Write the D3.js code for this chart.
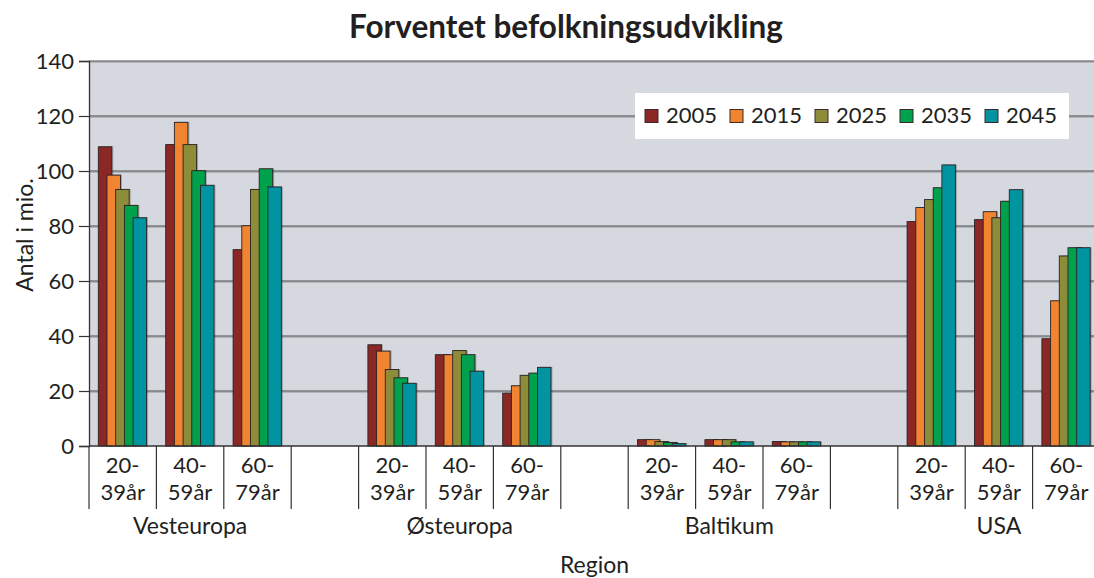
<!DOCTYPE html>
<html>
<head>
<meta charset="utf-8">
<script src="https://cdn.jsdelivr.net/npm/d3@7"></script>
<style>
  html, body { margin: 0; padding: 0; background: #ffffff; }
  svg { display: block; }
  text { font-family: "Lato", "Open Sans", sans-serif; fill: #231f20; }
</style>
</head>
<body>
<svg id="chart" width="1094" height="578"></svg>
<script>
// ---- data ----
const title = "Forventet befolkningsudvikling";
const yTitle = "Antal i mio.";
const xTitle = "Region";
const years = ["2005", "2015", "2025", "2035", "2045"];
const regions = ["Vesteuropa", "Østeuropa", "Baltikum", "USA"];
const ageLine1 = ["20-", "40-", "60-"];
const ageLine2 = ["39år", "59år", "79år"];
const yTicks = [0, 20, 40, 60, 80, 100, 120, 140];
// values ordered: region x age (VE 20-39, 40-59, 60-79, ØE..., Baltikum..., USA...)
const v2005 = [108.8, 109.6, 71.4, 36.8, 33.2, 19.2, 2.3, 2.3, 1.6, 81.6, 82.3, 39.0];
const v2015 = [98.5, 117.7, 80.1, 34.5, 33.2, 21.9, 2.3, 2.3, 1.5, 86.7, 85.2, 52.8];
const v2025 = [93.3, 109.6, 93.3, 27.8, 34.7, 25.7, 1.6, 2.3, 1.5, 89.6, 83.0, 69.1];
const v2035 = [87.5, 100.1, 100.8, 24.8, 33.2, 26.5, 1.3, 1.5, 1.5, 93.9, 89.0, 72.1];
const v2045 = [83.0, 94.8, 94.2, 22.8, 27.2, 28.6, 0.85, 1.5, 1.5, 102.2, 93.2, 72.1];
const series = [v2005, v2015, v2025, v2035, v2045];
const colors = ["#8b2826", "#f08431", "#8d8c39", "#00a14c", "#0094a0"];

// ---- layout ----
const svg = d3.select("#chart");
const plot = { left: 89, right: 1100, top: 61, bottom: 446 };

// slots: 3 age groups per region with one empty slot between regions
const slots = [];
regions.forEach((r, ri) => {
  ageLine1.forEach((a, ai) => slots.push({ key: r + "|" + ai, region: ri, age: ai, idx: ri * 3 + ai }));
  if (ri < regions.length - 1) slots.push({ key: "gap" + ri, gap: true });
});

const x = d3.scaleBand().domain(slots.map(s => s.key)).range([plot.left, plot.right]).padding(0);
const y = d3.scaleLinear().domain([0, 140]).range([plot.bottom, plot.top]);
const bw = x.bandwidth();
const barW = bw * 0.2;
const barStep = bw * 0.129;
const groupOffset = bw * 0.138;

// plot background
svg.append("rect")
  .attr("x", plot.left).attr("y", plot.top)
  .attr("width", plot.right - plot.left).attr("height", plot.bottom - plot.top)
  .attr("fill", "#d5d8df");

// gridlines
const grid = svg.append("g");
yTicks.filter(t => t > 0).forEach(t => {
  grid.append("line")
    .attr("x1", plot.left).attr("x2", plot.right)
    .attr("y1", y(t) + 1.2).attr("y2", y(t) + 1.2)
    .attr("stroke", "#a3a5aa").attr("stroke-width", 1);
  grid.append("line")
    .attr("x1", plot.left).attr("x2", plot.right)
    .attr("y1", y(t)).attr("y2", y(t))
    .attr("stroke", "#4a4a4d").attr("stroke-width", 1.2);
});

// bars
const barsG = svg.append("g");
slots.filter(s => !s.gap).forEach(s => {
  const x0 = x(s.key) + groupOffset;
  series.forEach((vals, si) => {
    const v = vals[s.idx];
    const bx = x0 + si * barStep;
    // shadow
    barsG.append("rect")
      .attr("x", bx + 1.5).attr("y", y(v) - 0.5)
      .attr("width", barW).attr("height", y(0) - y(v) + 0.5)
      .attr("fill", "#000").attr("fill-opacity", 0.25);
    barsG.append("rect")
      .attr("x", bx).attr("y", y(v))
      .attr("width", barW).attr("height", y(0) - y(v))
      .attr("fill", colors[si])
      .attr("stroke", "#2a2222").attr("stroke-width", 0.9);
  });
});

// y axis
const yAxis = d3.axisLeft(y).tickValues(yTicks).tickSize(10).tickPadding(5).tickFormat(d3.format("d"));
const yg = svg.append("g").attr("transform", `translate(${plot.left},0)`).call(yAxis);
yg.select(".domain").attr("stroke", "#333").attr("stroke-width", 1.3);
yg.selectAll(".tick line").attr("stroke", "#333").attr("stroke-width", 1.2);
yg.selectAll(".tick text")
  .style("font-family", '"Lato", "Open Sans", sans-serif')
  .style("font-size", "22px").attr("fill", "#231f20");

// x axis baseline
svg.append("line")
  .attr("x1", plot.left).attr("x2", plot.right)
  .attr("y1", plot.bottom).attr("y2", plot.bottom)
  .attr("stroke", "#333").attr("stroke-width", 1.3);

// separators at each slot boundary
const bounds = slots.map(s => x(s.key)).concat([plot.right]);
bounds.forEach(bx => {
  svg.append("line")
    .attr("x1", bx).attr("x2", bx)
    .attr("y1", plot.bottom).attr("y2", 509)
    .attr("stroke", "#333").attr("stroke-width", 1.2);
});

// age labels (two lines)
slots.filter(s => !s.gap).forEach(s => {
  const cx = x(s.key) + bw / 2;
  svg.append("text").attr("x", cx).attr("y", 473).attr("text-anchor", "middle")
    .style("font-size", "22px").text(ageLine1[s.age]);
  svg.append("text").attr("x", cx).attr("y", 500).attr("text-anchor", "middle")
    .style("font-size", "22px").text(ageLine2[s.age]);
});

// region labels
regions.forEach((r, ri) => {
  const first = slots.find(s => s.region === ri && s.age === 0);
  const last = slots.find(s => s.region === ri && s.age === 2);
  const cx = (x(first.key) + x(last.key) + bw) / 2;
  svg.append("text").attr("x", cx).attr("y", 534).attr("text-anchor", "middle")
    .style("font-size", "23px").text(r);
});

// axis titles
svg.append("text").attr("x", (plot.left + plot.right) / 2).attr("y", 573)
  .attr("text-anchor", "middle").style("font-size", "23px").text(xTitle);
svg.append("text").attr("transform", "translate(33,235) rotate(-90)")
  .attr("text-anchor", "middle").style("font-size", "23px").text(yTitle);

// title
svg.append("text").attr("x", 566).attr("y", 38).attr("text-anchor", "middle")
  .style("font-size", "31.5px").style("font-weight", "bold").text(title);

// legend
const lg = svg.append("g");
lg.append("rect").attr("x", 635).attr("y", 93).attr("width", 434).attr("height", 46).attr("fill", "#ffffff");
years.forEach((yr, i) => {
  const lx = 645 + i * 85;
  lg.append("rect").attr("x", lx).attr("y", 109.5).attr("width", 13).attr("height", 13)
    .attr("fill", colors[i]).attr("stroke", "#3a2a2a").attr("stroke-width", 1);
  lg.append("text").attr("x", lx + 21).attr("y", 123).style("font-size", "22px").text(yr);
});
</script>
</body>
</html>
